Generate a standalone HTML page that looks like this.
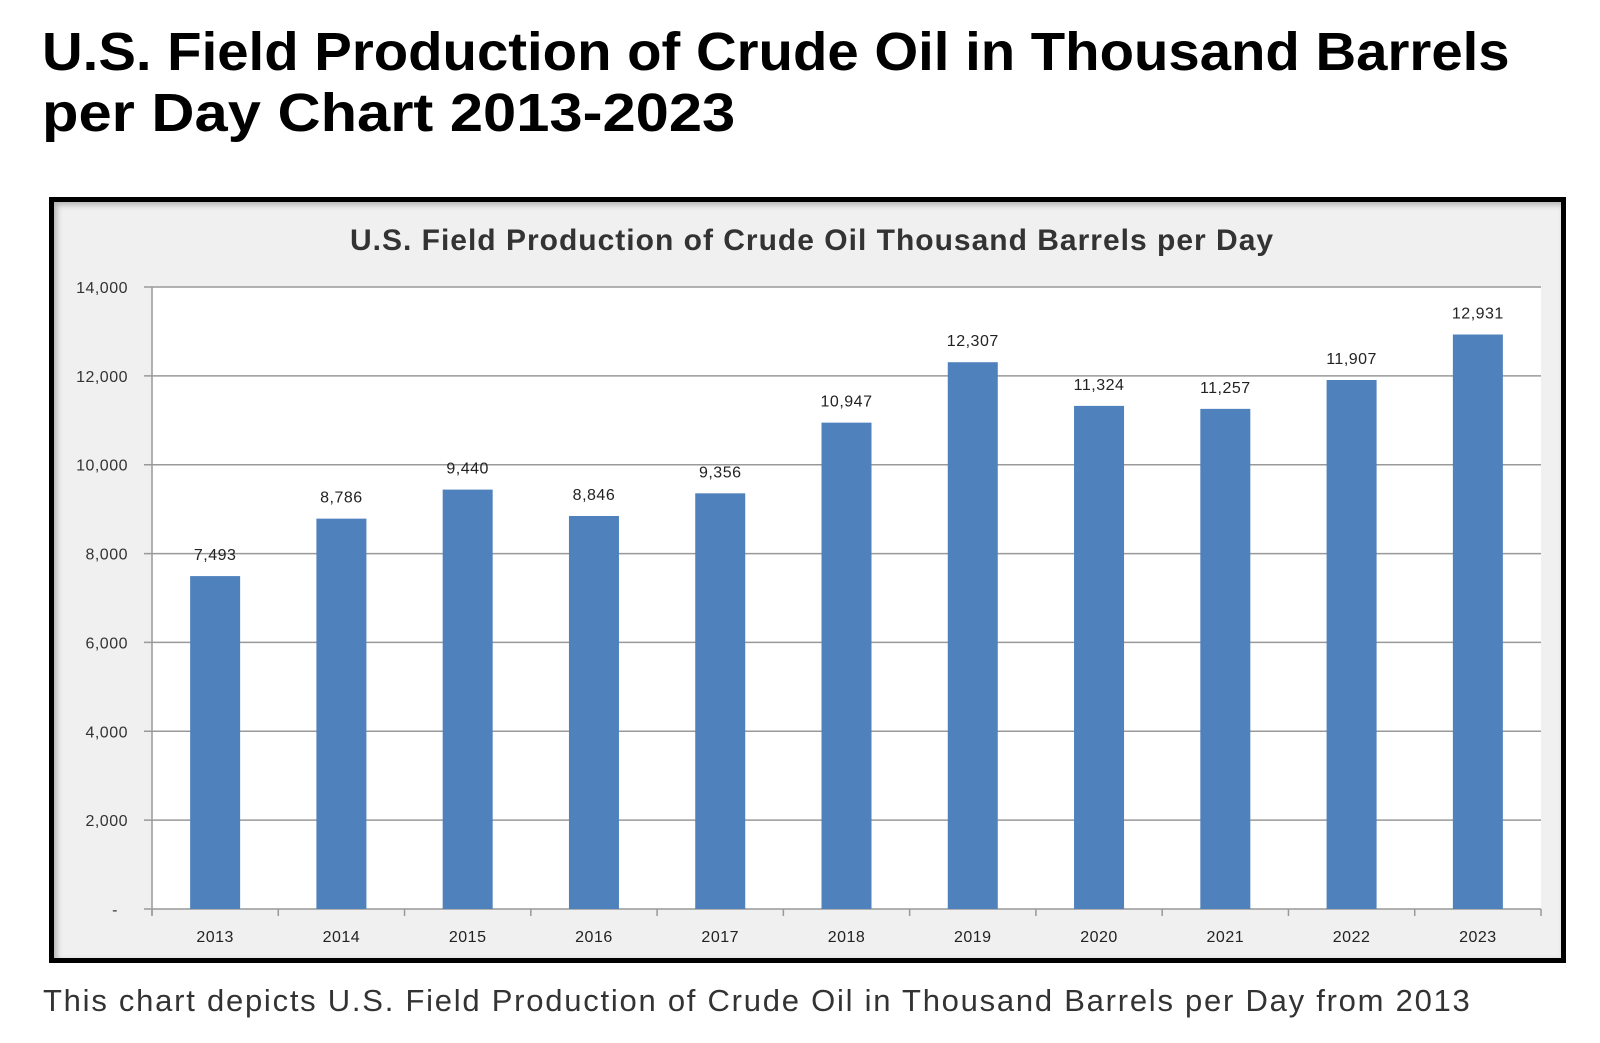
<!DOCTYPE html>
<html><head><meta charset="utf-8"><style>
body{margin:0;width:1600px;height:1043px;background:#fff;overflow:hidden;font-family:"Liberation Sans",sans-serif}
h1{position:absolute;left:42px;top:22px;margin:0;font-size:54px;line-height:61px;font-weight:bold;color:#000}
h1 span{display:inline-block;transform-origin:0 0;white-space:nowrap}
#cap{position:absolute;left:43px;top:983px;font-size:31px;color:#333;letter-spacing:1.75px;white-space:nowrap}
#box{position:absolute;left:49px;top:197px;width:1507px;height:756px;border:5px solid #000;background:#f0f0f0;box-shadow:inset 3px 3px 6px rgba(0,0,0,.25)}
svg{position:absolute;left:0;top:0}
</style></head><body>
<h1><span style="transform:scaleX(1.043)">U.S. Field Production of Crude Oil in Thousand Barrels</span><br><span style="transform:scaleX(1.105)">per Day Chart 2013-2023</span></h1>
<div id="box"></div>
<svg id="c" width="1600" height="1043"></svg>
<div id="cap">This chart depicts U.S. Field Production of Crude Oil in Thousand Barrels per Day from 2013</div>
<script>
const categories=["2013","2014","2015","2016","2017","2018","2019","2020","2021","2022","2023"];
const values=[7493,8786,9440,8846,9356,10947,12307,11324,11257,11907,12931];
const yTicks=[0,2000,4000,6000,8000,10000,12000,14000];
const yTickLabels=["-","2,000","4,000","6,000","8,000","10,000","12,000","14,000"];
const L=152,R=1541,T=287,B=909,YMAX=14000;
const svg=document.getElementById('c');const NS='http://www.w3.org/2000/svg';
const step=(R-L)/categories.length;
const y=v=>B-(v/YMAX)*(B-T);
const xc=i=>L+step*(i+0.5);
function mk(t,a,txt){const e=document.createElementNS(NS,t);for(const k in a)e.setAttribute(k,a[k]);if(txt!==undefined)e.textContent=txt;svg.appendChild(e);return e;}
let e=mk('rect',{x:L,y:T,width:R-L,height:B-T,fill:'#fff'});


e=mk('text',{x:812,y:250,'text-anchor':'middle','font-size':30,'font-weight':'bold',fill:'#333','letter-spacing':'1.0'},'U.S. Field Production of Crude Oil Thousand Barrels per Day');


yTicks.forEach((t,i)=>{
  const g=mk('line',{x1:L-8,x2:R,y1:y(t),y2:y(t),stroke:'#999','stroke-width':1.5});
  
  
  const l=mk('text',{x:i===0?118:128,y:y(t)+6,'text-anchor':'end','font-size':16,fill:'#333','letter-spacing':'0.5'},yTickLabels[i]);
  
  
});
e=mk('line',{x1:L,x2:L,y1:T,y2:B+6,stroke:'#999','stroke-width':1.5});


for(let i=0;i<=categories.length;i++){
  const t=mk('line',{x1:L+step*i,x2:L+step*i,y1:B,y2:B+7,stroke:'#999','stroke-width':1.5});
  
  
}
const bw=50;
categories.forEach((c,i)=>{
  const b=mk('rect',{x:xc(i)-bw/2,y:y(values[i]),width:bw,height:B-y(values[i]),fill:'#4f81bd'});
  
  
  const v=mk('text',{x:xc(i),y:y(values[i])-16,'text-anchor':'middle','font-size':16,fill:'#222','letter-spacing':'0.5'},values[i].toLocaleString('en-US'));
  
  
  const x=mk('text',{x:xc(i),y:942,'text-anchor':'middle','font-size':16,fill:'#222','letter-spacing':'0.5'},c);
  
  
});
</script>
</body></html>
